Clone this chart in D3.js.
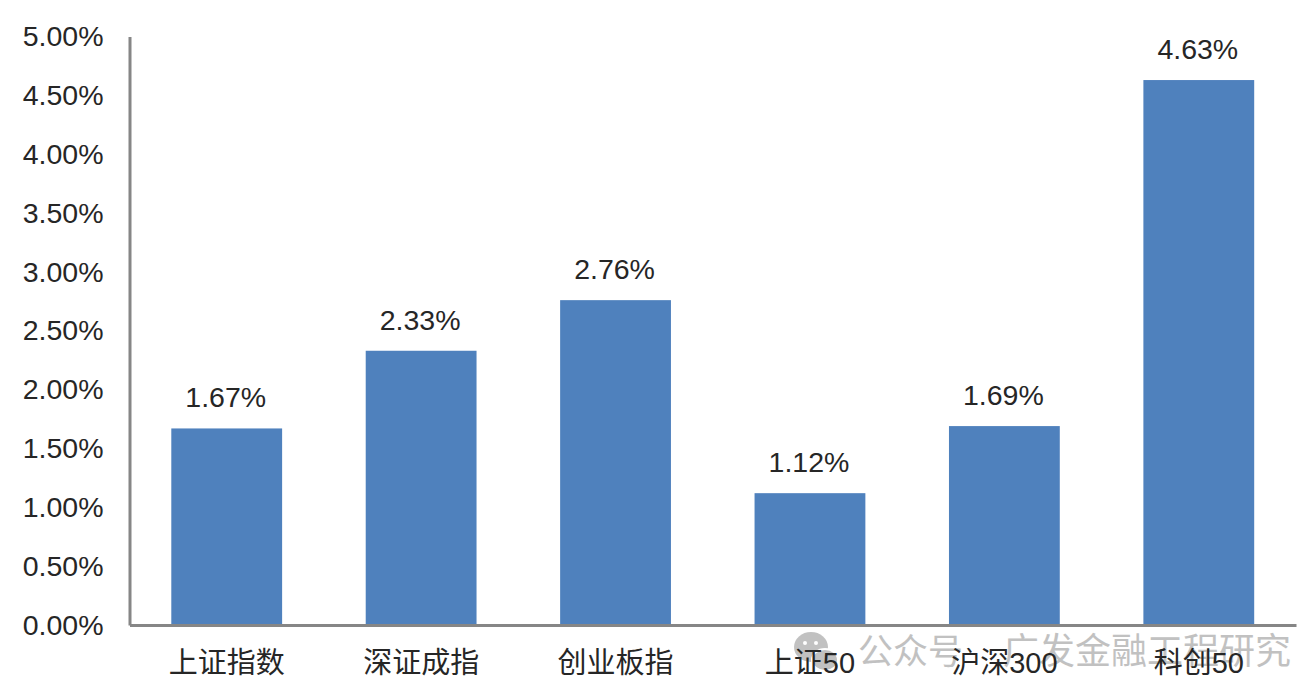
<!DOCTYPE html>
<html>
<head>
<meta charset="utf-8">
<style>
  html, body { margin: 0; padding: 0; background: #fff; overflow: hidden; }
  svg { display: block; }
  text { font-family: "Liberation Sans", "Noto Sans CJK SC", sans-serif; fill: #262626; }
</style>
</head>
<body>
<svg id="chart" width="1305" height="690"></svg>
<script src="https://cdn.jsdelivr.net/npm/d3@7"></script>
<script>
  const categories = ["上证指数", "深证成指", "创业板指", "上证50", "沪深300", "科创50"];
  const values = [1.67, 2.33, 2.76, 1.12, 1.69, 4.63];
  const yTicks = [0, 0.5, 1, 1.5, 2, 2.5, 3, 3.5, 4, 4.5, 5];
  const watermarkLeft = "公众号";
  const watermarkRight = "广发金融工程研究";

  const svg = d3.select("#chart");
  const pct = d => d.toFixed(2) + "%";

  const x = d3.scaleBand().domain(categories).range([129.5, 1296]).paddingInner(0.43).paddingOuter(0.215);
  const y = d3.scaleLinear().domain([0, 5]).range([625, 36.5]);

  // bars
  svg.selectAll("rect.bar")
    .data(values)
    .enter()
    .append("rect")
    .attr("class", "bar")
    .attr("x", (d, i) => x(categories[i]))
    .attr("y", d => y(d))
    .attr("width", x.bandwidth())
    .attr("height", d => y(0) - y(d))
    .attr("fill", "#4f81bd");

  // value labels
  svg.selectAll("text.val")
    .data(values)
    .enter()
    .append("text")
    .attr("class", "val")
    .attr("x", (d, i) => x(categories[i]) + x.bandwidth() / 2 - 1)
    .attr("y", d => y(d) - 21)
    .attr("text-anchor", "middle")
    .attr("font-size", 28.5)
    .text(pct);

  // watermark goes under the axis labels
  const wm = svg.append("g").attr("opacity", 0.7);
  wm.append("ellipse").attr("cx", 811).attr("cy", 647).attr("rx", 17).attr("ry", 15).attr("fill", "#a8a8a8");
  wm.append("ellipse").attr("cx", 825).attr("cy", 660).attr("rx", 13).attr("ry", 11).attr("fill", "#a8a8a8").attr("stroke", "#fff").attr("stroke-width", 2);
  wm.append("circle").attr("cx", 805).attr("cy", 643).attr("r", 2).attr("fill", "#fff");
  wm.append("circle").attr("cx", 816).attr("cy", 643).attr("r", 2).attr("fill", "#fff");
  wm.append("text").attr("x", 858).attr("y", 664).attr("font-size", 35).style("fill", "#a8a8a8").text(watermarkLeft);
  wm.append("text").attr("x", 1003).attr("y", 664).attr("font-size", 36).style("fill", "#a8a8a8").text(watermarkRight);

  // axes
  const yAxis = d3.axisLeft(y).tickValues(yTicks).tickSize(0).tickPadding(26).tickFormat(pct);
  const yg = svg.append("g").attr("transform", "translate(129.5,0)").call(yAxis);
  yg.select(".domain").attr("stroke", "#868686").attr("stroke-width", 3);
  yg.selectAll("text").attr("font-size", 28.5).attr("fill", "#262626").attr("font-family", null);

  const xAxis = d3.axisBottom(x).tickSize(0).tickPadding(27);
  const xg = svg.append("g").attr("transform", "translate(0,625)").call(xAxis);
  xg.select(".domain").attr("stroke", "#868686").attr("stroke-width", 3);
  xg.selectAll("text").attr("font-size", 29).attr("fill", "#262626").attr("font-family", null);
</script>
</body>
</html>
